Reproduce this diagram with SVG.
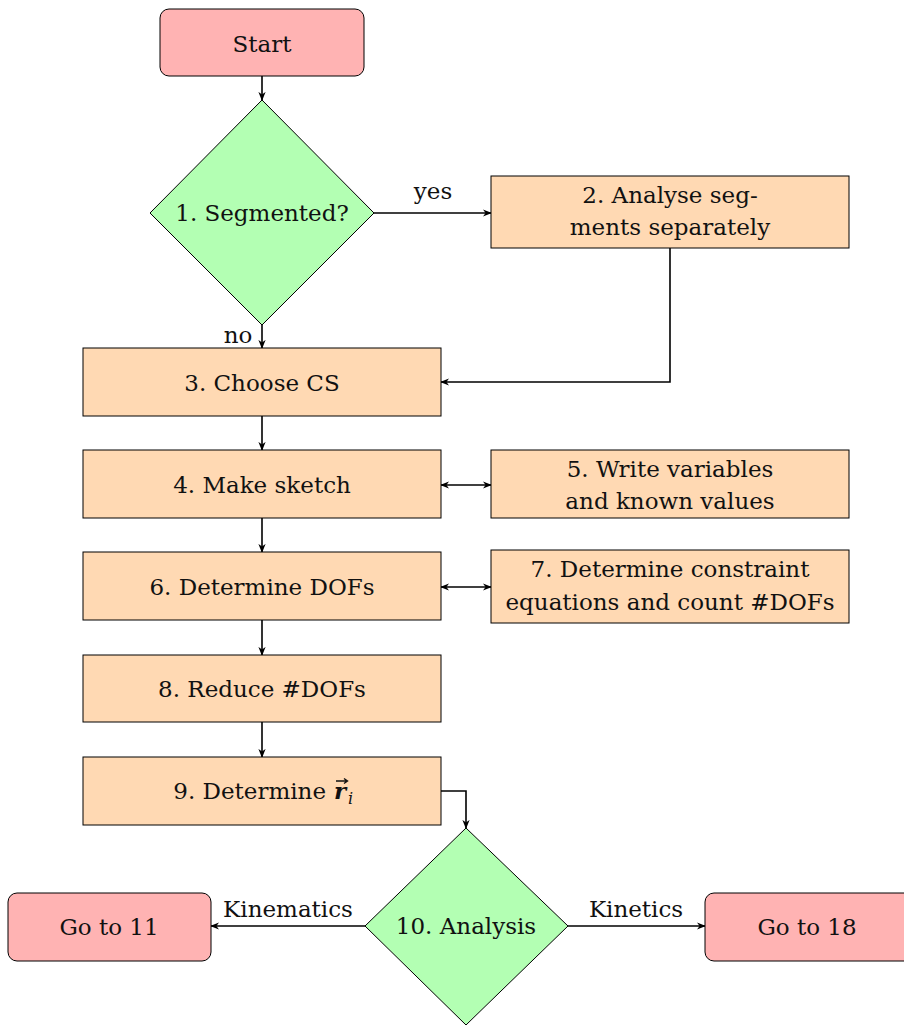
<svg xmlns="http://www.w3.org/2000/svg" width="904" height="1025" viewBox="0 0 904 1025" font-family="DejaVu Serif, serif">
<defs>
<style>
text{font-size:23px;fill:#111;text-anchor:middle}
.term{fill:#ffb3b3;stroke:#000;stroke-width:1}
.dec{fill:#b3ffb3;stroke:#000;stroke-width:1}
.proc{fill:#ffd9b3;stroke:#000;stroke-width:1}
.conn{fill:none;stroke:#000;stroke-width:1.6}
</style>
<marker id="ah" viewBox="0 0 10 10" refX="9" refY="5" markerWidth="9" markerHeight="9" markerUnits="userSpaceOnUse" orient="auto-start-reverse">
<path d="M0,1 L10,5 L0,9 L3,5 Z" fill="#000"/>
</marker>
</defs>
<rect width="904" height="1025" fill="#fff"/>
<g id="connectors">
<line class="conn" x1="262" y1="76" x2="262" y2="100" marker-end="url(#ah)"/>
<line class="conn" x1="374" y1="213" x2="491" y2="213" marker-end="url(#ah)"/>
<text x="433" y="199">yes</text>
<polyline class="conn" points="670,248 670,382 441,382" marker-end="url(#ah)"/>
<line class="conn" x1="262" y1="325" x2="262" y2="348" marker-end="url(#ah)"/>
<text x="238" y="343">no</text>
<line class="conn" x1="262" y1="416" x2="262" y2="450" marker-end="url(#ah)"/>
<line class="conn" x1="441" y1="485" x2="491" y2="485" marker-start="url(#ah)" marker-end="url(#ah)"/>
<line class="conn" x1="262" y1="518" x2="262" y2="552" marker-end="url(#ah)"/>
<line class="conn" x1="441" y1="587" x2="491" y2="587" marker-start="url(#ah)" marker-end="url(#ah)"/>
<line class="conn" x1="262" y1="620" x2="262" y2="655" marker-end="url(#ah)"/>
<line class="conn" x1="262" y1="722" x2="262" y2="757" marker-end="url(#ah)"/>
<polyline class="conn" points="441,791 466,791 466,828" marker-end="url(#ah)"/>
<line class="conn" x1="365" y1="926" x2="211" y2="926" marker-end="url(#ah)"/>
<text x="288" y="917">Kinematics</text>
<line class="conn" x1="568" y1="926" x2="705" y2="926" marker-end="url(#ah)"/>
<text x="636" y="917">Kinetics</text>
</g>
<g id="start"><rect class="term" x="160" y="9" width="204" height="67" rx="9"/><text x="262" y="52">Start</text></g>
<g id="n1"><polygon class="dec" points="262,100 374,213 262,325 150,213"/><text x="262" y="221">1.  Segmented?</text></g>
<g id="n2"><rect class="proc" x="491" y="176" width="358" height="72"/><text x="670" y="203">2.  Analyse seg-</text><text x="670" y="235">ments separately</text></g>
<g id="n3"><rect class="proc" x="83" y="348" width="358" height="68"/><text x="262" y="391">3.  Choose CS</text></g>
<g id="n4"><rect class="proc" x="83" y="450" width="358" height="68"/><text x="262" y="493">4.  Make sketch</text></g>
<g id="n5"><rect class="proc" x="491" y="450" width="358" height="68"/><text x="670" y="477">5.  Write variables</text><text x="670" y="509">and known values</text></g>
<g id="n6"><rect class="proc" x="83" y="552" width="358" height="68"/><text x="262" y="595">6.  Determine DOFs</text></g>
<g id="n7"><rect class="proc" x="491" y="550" width="358" height="73"/><text x="670" y="577">7.  Determine constraint</text><text x="670" y="610">equations and count #DOFs</text></g>
<g id="n8"><rect class="proc" x="83" y="655" width="358" height="67"/><text x="262" y="697">8.  Reduce #DOFs</text></g>
<g id="n9"><rect class="proc" x="83" y="757" width="358" height="68"/>
<text x="326" y="799" style="text-anchor:end">9.  Determine</text>
<text x="334" y="799" style="text-anchor:start;font-weight:bold;font-style:italic">r</text>
<path d="M336,781 L347,781 M344,778.5 L347.5,781 L344,783.5" fill="none" stroke="#111" stroke-width="1.4"/>
<text x="348" y="804" style="text-anchor:start;font-style:italic;font-size:16px">i</text>
</g>
<g id="n10"><polygon class="dec" points="466,828 568,926 466,1025 365,926"/><text x="466" y="934">10.  Analysis</text></g>
<g id="go11"><rect class="term" x="8" y="893" width="203" height="68" rx="9"/><text x="109" y="935">Go to 11</text></g>
<g id="go18"><rect class="term" x="705" y="893" width="208" height="68" rx="9"/><text x="807" y="935">Go to 18</text></g>
</svg>
